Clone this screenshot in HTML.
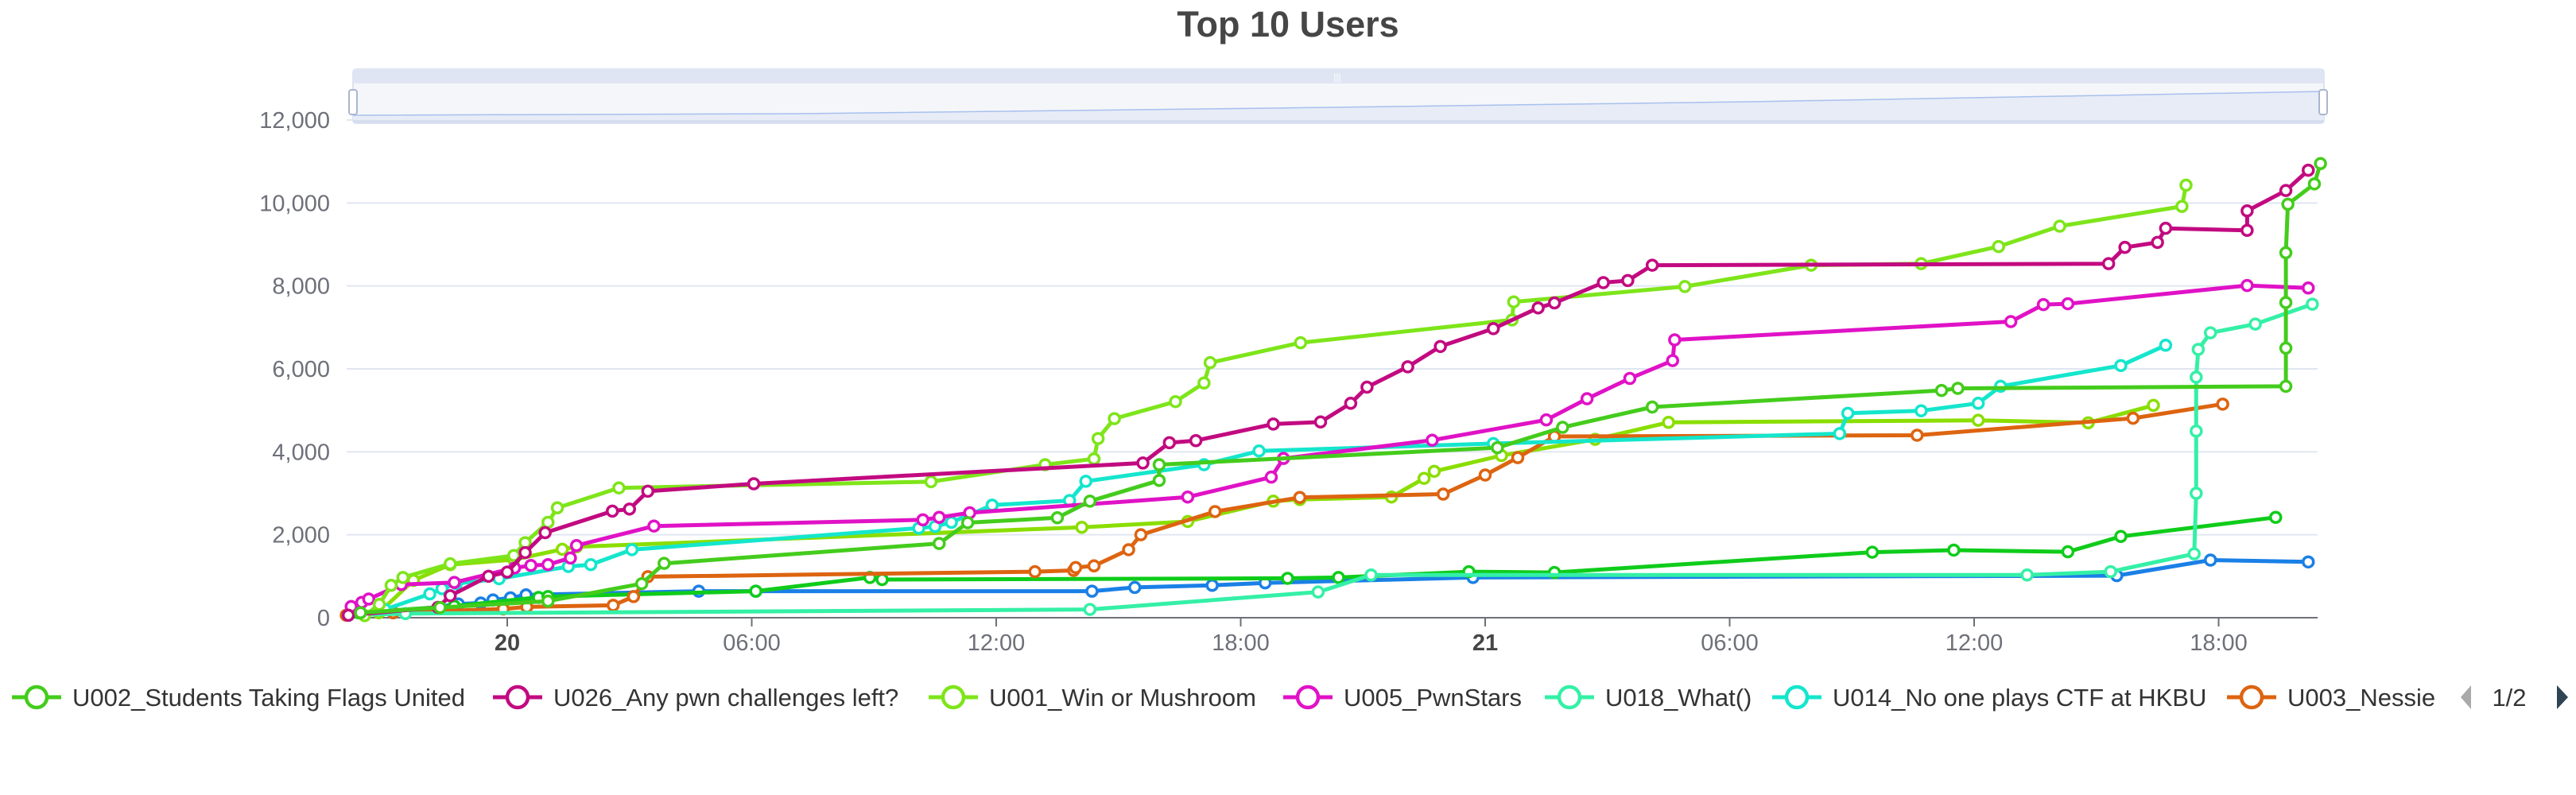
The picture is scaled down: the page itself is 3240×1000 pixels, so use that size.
<!DOCTYPE html>
<html><head><meta charset="utf-8">
<style>
html,body{margin:0;padding:0;background:#fff;}
body{width:3240px;height:1000px;overflow:hidden;position:relative;font-family:"Liberation Sans",sans-serif;}
svg{position:absolute;left:0;top:0;}
</style></head>
<body>
<svg id="chart" width="3240" height="1000">
  <text x="1620" y="46" text-anchor="middle" font-size="45" font-weight="bold" fill="#464646">Top 10 Users</text>
  <g id="grid"></g>
  <g id="yaxis"></g>
  <g id="xaxis"></g>
  <g id="series"></g>
  <g id="zoom">
    <rect x="444" y="87" width="2479" height="68" rx="4" fill="#f5f6f9" stroke="#d2dbee" stroke-width="1.5"/>
    <rect x="444" y="87" width="2479" height="18" rx="4" fill="#dfe5f3"/>
    <path d="M444 145 L1000 143 L1600 136 L2200 128 L2923 115 L2923 155 L444 155 Z" fill="#e7ecf7"/>
    <path d="M444 145 L1000 143 L1600 136 L2200 128 L2923 115" fill="none" stroke="#a8c0ee" stroke-width="1.5"/>
    <rect x="444" y="151" width="2479" height="4" fill="#d6ddef"/>
    <text x="1682" y="101" text-anchor="middle" font-size="12" fill="#fff">|||</text>
    <rect x="439" y="113" width="10" height="31" rx="3" fill="#fff" stroke="#aab6d0" stroke-width="2"/>
    <rect x="2917" y="113" width="10" height="31" rx="3" fill="#fff" stroke="#aab6d0" stroke-width="2"/>
  </g>
  <g id="legend"></g>
  <g>
    <path d="M3108 862 L3095 877 L3108 892 Z" fill="#aaaaaa"/>
    <text x="3156" y="888" text-anchor="middle" font-size="31" fill="#333">1/2</text>
    <path d="M3216 862 L3230 877 L3216 892 Z" fill="#2f4554"/>
  </g>
</svg>
<script>
// hours relative to day 20 00:00
const yTicks = [0,2000,4000,6000,8000,10000,12000];
const yTickLabels = ["0","2,000","4,000","6,000","8,000","10,000","12,000"];
const xTicks = [0,6,12,18,24,30,36,42];
const xTickLabels = ["20","06:00","12:00","18:00","21","06:00","12:00","18:00"];
const seriesNames = ["U002_Students Taking Flags United","U026_Any pwn challenges left?","U001_Win or Mushroom","U005_PwnStars","U018_What()","U014_No one plays CTF at HKBU","U003_Nessie","P2_lime","P2_green","P2_blue"];
const seriesColors = ["#44cc1c","#c20a80","#7ee51a","#e012c6","#34f0a6","#14e6cc","#dd6410","#8ade00","#0fcc1a","#1a80e6"];
const u002H = [-3.6,-1.65,1.0,3.3,3.85,10.6,11.3,13.5,14.3,16.0,16.0,24.3,25.9,28.1,35.2,35.6,43.65,43.65,43.65,43.65,43.7,44.35,44.5];
const u002V = [120,245,400,820,1310,1790,2290,2410,2810,3310,3690,4100,4590,5080,5480,5530,5580,6500,7600,8800,9970,10460,10950];
const u026H = [-3.9,-1.7,-1.4,-0.46,0,0.44,0.93,2.58,3.0,3.45,6.05,15.6,16.25,16.9,18.8,19.96,20.7,21.1,22.1,22.9,24.2,25.3,25.7,26.9,27.5,28.1,39.3,39.7,40.5,40.7,42.7,42.7,43.65,44.2];
const u026V = [60,250,530,1000,1100,1570,2050,2570,2620,3050,3230,3730,4220,4270,4670,4720,5170,5560,6050,6540,6970,7470,7590,8080,8130,8500,8537,8930,9050,9390,9340,9810,10300,10790];
const u001H = [-3.5,-3.14,-2.85,-2.56,-1.4,0.16,0.44,1.0,1.23,2.74,10.4,13.2,14.4,14.5,14.9,16.4,17.1,17.25,19.47,24.66,24.7,28.9,32.0,34.7,36.6,38.1,41.1,41.2];
const u001V = [50,320,780,970,1300,1500,1810,2300,2650,3130,3280,3690,3830,4320,4800,5210,5660,6150,6630,7180,7616,7986,8500,8537,8950,9440,9918,10430];
const u005H = [-3.83,-3.57,-3.4,-2.6,-1.3,0.18,0.58,1.0,1.55,1.7,3.6,10.2,10.6,11.35,16.7,18.75,19.05,22.7,25.5,26.5,27.55,28.6,28.65,36.9,37.7,38.3,42.7,44.2];
const u005V = [270,370,450,800,850,1200,1260,1280,1440,1740,2210,2360,2420,2530,2910,3390,3840,4280,4770,5280,5770,6200,6700,7140,7550,7570,8010,7950];
const u018H = [-3.9,-2.5,14.3,19.9,21.2,37.3,39.35,41.4,41.45,41.45,41.45,41.5,41.8,42.9,44.3];
const u018V = [60,100,200,620,1030,1030,1110,1540,3000,4500,5800,6470,6870,7080,7560];
const u014H = [-3.0,-1.9,-1.6,-1.25,-0.2,1.5,2.05,3.06,10.1,10.5,10.9,11.9,13.8,14.2,17.1,18.45,24.2,32.7,32.9,34.7,36.1,36.65,39.6,40.7];
const u014V = [200,575,700,820,940,1235,1280,1640,2160,2200,2300,2715,2825,3290,3690,4020,4200,4440,4930,4990,5170,5580,6080,6570];
const u003H = [-3.95,-2.8,-0.1,0.48,2.6,3.1,3.45,12.95,13.9,13.95,14.4,15.25,15.55,17.37,19.45,22.97,24.0,24.8,25.7,34.6,39.9,42.1];
const u003V = [60,120,210,260,300,510,990,1110,1140,1210,1250,1640,2000,2560,2900,2980,3440,3860,4370,4400,4810,5150];
const p2limeH = [-3.15,-2.3,-1.4,0.16,1.35,1.7,14.1,16.7,18.8,19.45,21.7,22.5,22.75,24.4,26.7,28.5,36.1,38.8,40.4];
const p2limeV = [120,900,1280,1400,1650,1710,2180,2320,2810,2850,2910,3360,3530,3910,4300,4710,4760,4700,5120];
const p2greenH = [-3.65,-1.3,0.77,1.0,6.1,8.9,9.2,19.15,20.4,23.6,25.7,33.5,35.5,38.3,39.6,43.4];
const p2greenV = [120,280,490,510,640,970,920,950,970,1110,1090,1580,1630,1590,1960,2420];
const p2blueH = [-3.9,-2.8,-1.2,-0.65,-0.35,0.08,0.46,4.7,6.1,14.35,15.4,17.3,18.6,23.7,39.5,41.8,44.2];
const p2blueV = [60,120,330,355,430,480,550,640,640,640,730,780,840,970,1015,1390,1345];

const allH = [u002H,u026H,u001H,u005H,u018H,u014H,u003H,p2limeH,p2greenH,p2blueH];
const allV = [u002V,u026V,u001V,u005V,u018V,u014V,u003V,p2limeV,p2greenV,p2blueV];

const NS="http://www.w3.org/2000/svg";
const X0=436, X1=2915, Y0=777;
function xs(h){return 638 + h*51.25;}
function ys(v){return Y0 - v*(626/12000);}
function mk(tag,attrs,parent){const e=document.createElementNS(NS,tag);for(const k in attrs)e.setAttribute(k,attrs[k]);parent.appendChild(e);return e;}

const grid=document.getElementById('grid'), yaxis=document.getElementById('yaxis'), xaxis=document.getElementById('xaxis');
yTicks.forEach((t,i)=>{
  if(t>0){
    const g=mk('line',{x1:X0,x2:X1,y1:ys(t),y2:ys(t),stroke:'#e0e6f1','stroke-width':2},grid);
    
    
  }
  const tx=mk('text',{x:415,y:ys(t)+10,'text-anchor':'end','font-size':29,fill:'#6e7079'},yaxis);
  tx.textContent=yTickLabels[i];
  
  
});
const ax=mk('line',{x1:X0,x2:X1,y1:Y0,y2:Y0,stroke:'#6e7079','stroke-width':2},xaxis);


xTicks.forEach((t,i)=>{
  const x=xs(t);
  const tk=mk('line',{x1:x,x2:x,y1:Y0,y2:Y0+11,stroke:'#6e7079','stroke-width':2},xaxis);
  
  
  const bold = (xTickLabels[i].length<=2);
  const tx=mk('text',{x:x,y:818,'text-anchor':'middle','font-size':29,fill:bold?'#464646':'#6e7079','font-weight':bold?'bold':'normal'},xaxis);
  tx.textContent=xTickLabels[i];
  
  
});

const sg=document.getElementById('series');
for(let s=allH.length-1;s>=0;s--){
  const H=allH[s], V=allV[s], c=seriesColors[s];
  const g=mk('g',{},sg);
  
  
  const d=H.map((h,i)=>(i?'L':'M')+xs(h).toFixed(1)+' '+ys(V[i]).toFixed(1)).join(' ');
  const p=mk('path',{d:d,fill:'none',stroke:c,'stroke-width':5,'stroke-linejoin':'round'},g);
  
  
  H.forEach((h,i)=>{
    const pt=mk('circle',{cx:xs(h),cy:ys(V[i]),r:6.5,fill:'#fff',stroke:c,'stroke-width':3.5},g);
    
    
  });
}

const legendX=[15,620,1168,1614,1943,2229,2801];
const lg=document.getElementById('legend');
for(let i=0;i<7;i++){
  const g=mk('g',{},lg);
  
  
  const x=legendX[i], c=seriesColors[i];
  mk('line',{x1:x,x2:x+62,y1:877,y2:877,stroke:c,'stroke-width':5},g);
  mk('circle',{cx:x+31,cy:877,r:13,fill:'#fff',stroke:c,'stroke-width':4.5},g);
  const t=mk('text',{x:x+76,y:888,'font-size':31,fill:'#333'},g);
  t.textContent=seriesNames[i];
}
</script>
</body></html>
